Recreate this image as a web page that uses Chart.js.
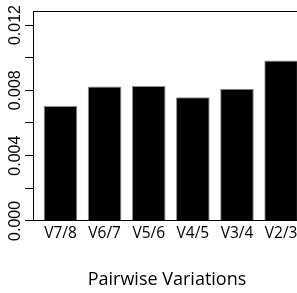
<!DOCTYPE html>
<html>
<head>
<meta charset="utf-8">
<script src="https://cdn.jsdelivr.net/npm/chart.js@4/dist/chart.umd.min.js"></script>
<style>
  html, body { margin: 0; padding: 0; background: #fff; overflow: hidden; }
  #wrap { width: 297px; height: 293px; overflow: hidden; }
</style>
</head>
<body>
<div id="wrap"><canvas id="myChart" width="305" height="293"></canvas></div>
<script>
// pairwise variation values
const categories = ["V7/8", "V6/7", "V5/6", "V4/5", "V3/4", "V2/3"];
const values = [0.00704, 0.00823, 0.00827, 0.00757, 0.00809, 0.00983];
const yTicks = [0, 0.002, 0.004, 0.006, 0.008, 0.010, 0.012];
const yLabels = ["0.000", "", "0.004", "", "0.008", "", "0.012"];

const ctx = document.getElementById('myChart');

new Chart(ctx, {
  type: 'bar',
  data: {
    datasets: [{
      data: values.map((v, i) => ({ x: i + 1, y: v })),
      backgroundColor: '#000',
      borderColor: '#8c8c8c',
      borderWidth: 1,
      borderSkipped: 'start',
      barPercentage: 0.762,
      categoryPercentage: 1
    }]
  },
  options: {
    responsive: false,
    animation: false,
    layout: { padding: { top: 11, right: 4, left: 0, bottom: 0 } },
    plugins: { legend: { display: false }, tooltip: { enabled: false } },
    scales: {
      x: {
        type: 'linear',
        position: 'bottom',
        offset: false,
        min: 0.377,
        max: 6.451,
        grid: { display: false, drawTicks: false },
        border: { display: true, color: '#000', width: 1 },
        afterBuildTicks: s => { s.ticks = categories.map((c, i) => ({ value: i + 1 })); },
        ticks: {
          autoSkip: false,
          maxRotation: 0,
          padding: 3.7,
          color: '#000',
          font: { family: 'Open Sans', size: 15.5 },
          callback: v => categories[v - 1] || ''
        },
        title: {
          display: true,
          text: 'Pairwise Variations',
          color: '#000',
          font: { family: 'Open Sans', size: 18 },
          padding: { top: 22.5, bottom: 2 }
        }
      },
      top: {
        type: 'linear',
        position: 'top',
        display: true,
        offset: false,
        grid: { display: false, drawTicks: false },
        border: { display: true, color: '#000', width: 1 },
        ticks: { display: false }
      },
      y: {
        min: 0,
        max: 0.01286,
        afterBuildTicks: s => { s.ticks = yTicks.map(v => ({ value: v })); },
        afterFit: s => { s.width = 33; },
        grid: { drawOnChartArea: false, tickLength: 8, color: '#000' },
        border: { display: true, color: '#000', width: 1 },
        ticks: {
          autoSkip: false,
          minRotation: 90,
          maxRotation: 90,
          crossAlign: 'center',
          padding: -11,
          color: '#000',
          font: { family: 'Liberation Sans', size: 16 },
          callback: (v, i) => yLabels[i]
        }
      }
    }
  }
});
</script>
</body>
</html>
